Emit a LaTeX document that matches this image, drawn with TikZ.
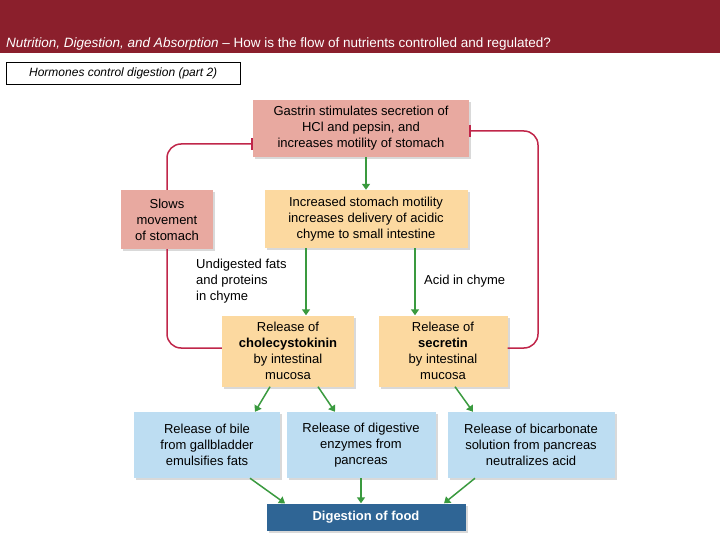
\documentclass[tikz,border=0pt]{standalone}
\usepackage{fontspec}
\setmainfont{Liberation Sans}
\usetikzlibrary{positioning,shadows,arrows.meta}
\definecolor{hdrred}{HTML}{8B1F2C}
\definecolor{pinkbox}{HTML}{E8A9A0}
\definecolor{orangebox}{HTML}{FCD9A0}
\definecolor{bluebox}{HTML}{BDDDF2}
\definecolor{darkblue}{HTML}{2F6595}
\definecolor{arrgreen}{HTML}{3A9A3F}
\definecolor{fbred}{HTML}{C0264A}
\tikzset{
  box/.style={align=center, inner sep=0pt, font=\fontsize{13}{16}\selectfont, drop shadow={shadow xshift=2pt, shadow yshift=-2pt, opacity=0.3}},
  pink/.style={box, fill=pinkbox},
  orange/.style={box, fill=orangebox},
  blue/.style={box, fill=bluebox},
  flow/.style={draw=arrgreen, line width=1.5pt, -{Triangle[length=6pt,width=8pt]}},
  inhibit/.style={draw=fbred, line width=1.5pt, rounded corners=14pt, -{Bar[width=12pt]}},
  lbl/.style={align=left, font=\fontsize{13}{16}\selectfont}
}
\begin{document}
\begin{tikzpicture}[x=1pt, y=-1pt]
    \useasboundingbox (0,0) rectangle (720,540);
    % header
    \fill[hdrred] (0,0) rectangle (720,53);
    \node[anchor=base west, inner sep=0pt, text=white, font=\fontsize{13.5}{15}\selectfont] (title) at (6,48)
        {\textit{Nutrition, Digestion, and Absorption} -- How is the flow of nutrients controlled and regulated?};
    \node[draw, thin, anchor=north west, minimum width=234pt, minimum height=22pt, inner sep=3pt, font=\itshape\fontsize{12}{14}\selectfont] (sub) at (6,62) {Hormones control digestion (part 2)};
    % boxes
    \node[pink, minimum width=216pt, minimum height=57pt] (gastrin) at (361,128.5) {Gastrin stimulates secretion of\\HCl and pepsin, and\\increases motility of stomach};
    \node[pink, minimum width=92pt, minimum height=59pt] (slows) at (167,219.5) {Slows\\movement\\of stomach};
    \node[orange, minimum width=203pt, minimum height=58pt] (motility) at (366,219) {Increased stomach motility\\increases delivery of acidic\\chyme to small intestine};
    \node[orange, minimum width=132pt, minimum height=71pt] (cck) at (288,351) {Release of\\\textbf{cholecystokinin}\\by intestinal\\mucosa};
    \node[orange, minimum width=129pt, minimum height=71pt] (secretin) at (443,351) {Release of\\\textbf{secretin}\\by intestinal\\mucosa};
    \node[blue, minimum width=146pt, minimum height=66pt] (bile) at (207,445) {Release of bile\\from gallbladder\\emulsifies fats};
    \node[blue, minimum width=149pt, minimum height=66pt] (enzymes) at (361,445) {Release of digestive\\enzymes from\\pancreas};
    \node[blue, minimum width=167pt, minimum height=66pt] (bicarb) at (531,445) {Release of bicarbonate\\solution from pancreas\\neutralizes acid};
    \node[box, fill=darkblue, text=white, font=\bfseries\fontsize{13}{16}\selectfont, minimum width=199pt, minimum height=27pt] (food) at (366,517) {Digestion of food};
    % labels
    \node[lbl, anchor=north west, inner sep=0pt] (fats) at (196,259) {Undigested fats\\and proteins\\in chyme};
    \node[lbl, anchor=west, inner sep=0pt] (acid) at (424,281) {Acid in chyme};
    % green arrows
    \draw[flow] (gastrin.south -| motility.north) -- (motility.north);
    \draw[flow] ([xshift=-60pt]motility.south) -- ([xshift=18pt]cck.north);
    \draw[flow] ([xshift=49pt]motility.south) -- ([xshift=-28pt]secretin.north);
    \draw[flow] ([xshift=-18pt]cck.south) -- ([xshift=48pt]bile.north);
    \draw[flow] ([xshift=30pt]cck.south) -- ([xshift=-26pt]enzymes.north);
    \draw[flow] ([xshift=12pt]secretin.south) -- ([xshift=-58pt]bicarb.north);
    \draw[flow] ([xshift=43pt]bile.south) -- ([xshift=-81pt]food.north);
    \draw[flow] (enzymes.south) -- (enzymes.south |- food.north);
    \draw[flow] ([xshift=-56pt]bicarb.south) -- ([xshift=78pt]food.north);
    % feedback
    \draw[draw=fbred, line width=1.5pt, rounded corners=14pt] ([yshift=3pt]cck.west) -| (slows.south);
    \draw[inhibit] (slows.north) |- ([yshift=-15.5pt]gastrin.west);
    \draw[inhibit] ([yshift=3pt]secretin.east) -| (538,131) -- ([yshift=-2.5pt]gastrin.east);
\end{tikzpicture}
\end{document}
